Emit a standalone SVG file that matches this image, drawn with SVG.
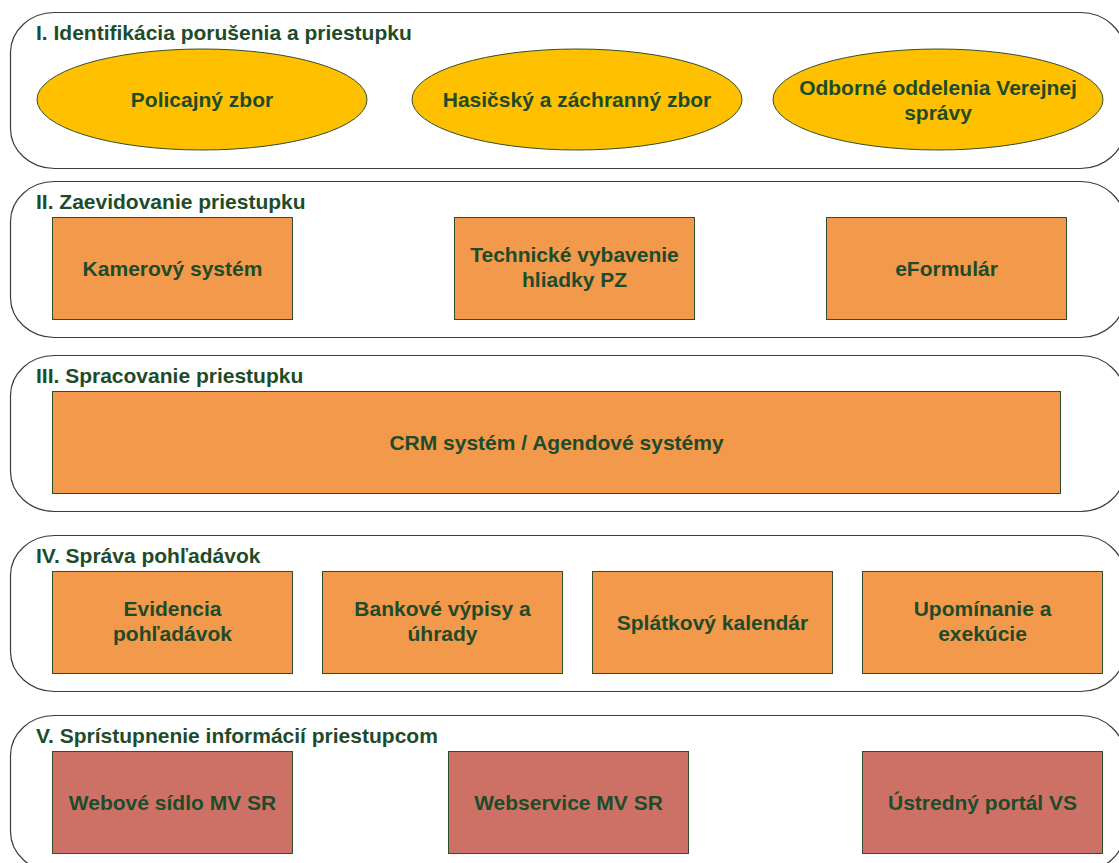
<svg xmlns="http://www.w3.org/2000/svg" width="1119" height="863" viewBox="0 0 1119 863">
<style>
.lane{fill:#ffffff;stroke:#3a3a3a;stroke-width:1.2}
.ell{fill:#FFC000;stroke:#2f4f2a;stroke-width:1}
.org{fill:#F3994B;stroke:#2f4f2a;stroke-width:1}
.red{fill:#CD7167;stroke:#2f4f2a;stroke-width:1}
text{font-family:"Liberation Sans",Arial,sans-serif;font-weight:bold;font-size:21px;fill:#1E4B2A}
.c{text-anchor:middle}
</style>
<rect width="1119" height="863" fill="#ffffff"/>
<g id="lane1"><rect class="lane" x="10.5" y="12.5" width="1114" height="156" rx="44" ry="40"/><text x="36" y="40">I. Identifikácia porušenia a priestupku</text></g>
<g id="lane2"><rect class="lane" x="10.5" y="181.5" width="1114" height="156" rx="44" ry="40"/><text x="36" y="209">II. Zaevidovanie priestupku</text></g>
<g id="lane3"><rect class="lane" x="10.5" y="355.5" width="1114" height="156" rx="44" ry="40"/><text x="36" y="383">III. Spracovanie priestupku</text></g>
<g id="lane4"><rect class="lane" x="10.5" y="535.5" width="1114" height="156" rx="44" ry="40"/><text x="36" y="563">IV. Správa pohľadávok</text></g>
<g id="lane5"><rect class="lane" x="10.5" y="715.5" width="1114" height="156" rx="44" ry="40"/><text x="36" y="743">V. Sprístupnenie informácií priestupcom</text></g>

<g id="policajny"><ellipse class="ell" cx="202" cy="99.5" rx="165" ry="50.5"/><text class="c" x="202" y="107">Policajný zbor</text></g>
<g id="hasicsky"><ellipse class="ell" cx="577" cy="99.5" rx="165" ry="50.5"/><text class="c" x="577" y="107">Hasičský a záchranný zbor</text></g>
<g id="odborne"><ellipse class="ell" cx="938" cy="99.5" rx="165" ry="50.5"/><text class="c" x="938" y="94.5">Odborné oddelenia Verejnej</text><text class="c" x="938" y="119.5">správy</text></g>

<g id="kamerovy"><rect class="org" x="52.5" y="217.5" width="240" height="102"/><text class="c" x="172.5" y="276">Kamerový systém</text></g>
<g id="technicke"><rect class="org" x="454.5" y="217.5" width="240" height="102"/><text class="c" x="574.5" y="262">Technické vybavenie</text><text class="c" x="574.5" y="287">hliadky PZ</text></g>
<g id="eformular"><rect class="org" x="826.5" y="217.5" width="240" height="102"/><text class="c" x="946.5" y="276">eFormulár</text></g>

<g id="crm"><rect class="org" x="52.5" y="391.5" width="1008" height="102"/><text class="c" x="556.5" y="450">CRM systém / Agendové systémy</text></g>

<g id="evidencia"><rect class="org" x="52.5" y="571.5" width="240" height="102"/><text class="c" x="172.5" y="616">Evidencia</text><text class="c" x="172.5" y="641">pohľadávok</text></g>
<g id="bankove"><rect class="org" x="322.5" y="571.5" width="240" height="102"/><text class="c" x="442.5" y="616">Bankové výpisy a</text><text class="c" x="442.5" y="641">úhrady</text></g>
<g id="splatkovy"><rect class="org" x="592.5" y="571.5" width="240" height="102"/><text class="c" x="712.5" y="630">Splátkový kalendár</text></g>
<g id="upominanie"><rect class="org" x="862.5" y="571.5" width="240" height="102"/><text class="c" x="982.5" y="616">Upomínanie a</text><text class="c" x="982.5" y="641">exekúcie</text></g>

<g id="webove"><rect class="red" x="52.5" y="751.5" width="240" height="102"/><text class="c" x="172.5" y="810">Webové sídlo MV SR</text></g>
<g id="webservice"><rect class="red" x="448.5" y="751.5" width="240" height="102"/><text class="c" x="568.5" y="810">Webservice MV SR</text></g>
<g id="ustredny"><rect class="red" x="862.5" y="751.5" width="240" height="102"/><text class="c" x="982.5" y="810">Ústredný portál VS</text></g>

<g id="connectors"></g>
</svg>
